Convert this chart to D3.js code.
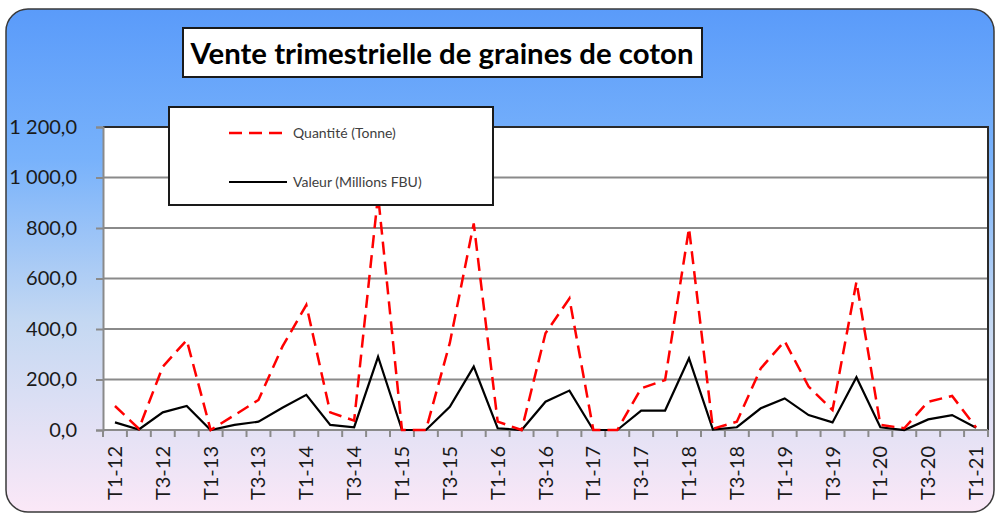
<!DOCTYPE html>
<html>
<head>
<meta charset="utf-8">
<script src="https://cdn.jsdelivr.net/npm/d3@7"></script>
<style>
  body { margin: 0; background: #fff; }
  svg { display: block; }
</style>
</head>
<body>
<div id="chart"></div>
<script>
// Categories (quarters)
const trimestres = [
  "T1-12", "T2-12", "T3-12", "T4-12",
  "T1-13", "T2-13", "T3-13", "T4-13",
  "T1-14", "T2-14", "T3-14", "T4-14",
  "T1-15", "T2-15", "T3-15", "T4-15",
  "T1-16", "T2-16", "T3-16", "T4-16",
  "T1-17", "T2-17", "T3-17", "T4-17",
  "T1-18", "T2-18", "T3-18", "T4-18",
  "T1-19", "T2-19", "T3-19", "T4-19",
  "T1-20", "T2-20", "T3-20", "T4-20",
  "T1-21"
];

// Quantité (Tonne)
const quantite = [95, 5, 251, 356, 0, 59, 119, 330, 495, 70, 37, 930,
  0, 0, 345, 818, 33, 0, 383, 521, 0, 0, 165, 198,
  799, 5, 33, 244, 352, 172, 79, 587, 20, 7, 112, 135, 10];

// Valeur (Millions FBU)
const valeur = [30, 2, 70, 95, 0, 20, 33, 88, 139, 20, 11, 290,
  0, 0, 92, 251, 7, 0, 112, 156, 0, 0, 77, 77,
  284, 2, 11, 86, 125, 59, 30, 209, 11, 0, 42, 59, 9];

const yTicks = [0, 200, 400, 600, 800, 1000, 1200];

const titre = "Vente trimestrielle de graines de coton";
const legendes = ["Quantité (Tonne)", "Valeur (Millions FBU)"];

const width = 995, height = 513;
const plot = { left: 103, right: 988, top: 127, bottom: 430 };
const font = "Lato, 'Open Sans', sans-serif";

const svg = d3.select("#chart")
    .append("svg")
    .attr("width", width)
    .attr("height", height);

// background gradient
const defs = svg.append("defs");
const grad = defs.append("linearGradient")
    .attr("id", "bg")
    .attr("x1", 0).attr("y1", 0).attr("x2", 0).attr("y2", 1);
grad.append("stop").attr("offset", "0%").attr("stop-color", "#5a9bfa");
grad.append("stop").attr("offset", "30%").attr("stop-color", "#78b2fb");
grad.append("stop").attr("offset", "62%").attr("stop-color", "#c4d8f2");
grad.append("stop").attr("offset", "100%").attr("stop-color", "#fbe8f7");

svg.append("rect")
    .attr("x", 6).attr("y", 9)
    .attr("width", 988).attr("height", 503)
    .attr("rx", 22).attr("ry", 22)
    .attr("fill", "url(#bg)")
    .attr("stroke", "#3a3a3a")
    .attr("stroke-width", 1.5);

// scales
const x = d3.scaleBand()
    .domain(trimestres)
    .range([plot.left, plot.right])
    .padding(0);

const y = d3.scaleLinear()
    .domain([0, 1200])
    .range([plot.bottom, plot.top]);

const fr = d3.formatLocale({ decimal: ",", thousands: " ", grouping: [3], currency: ["", ""] });
const fmt = fr.format(",.1f");

// plot area
svg.append("rect")
    .attr("x", plot.left).attr("y", plot.top)
    .attr("width", plot.right - plot.left)
    .attr("height", plot.bottom - plot.top)
    .attr("fill", "#fff");

// gridlines
svg.append("g")
    .selectAll("line")
    .data(yTicks.filter(d => d > 0 && d < 1200))
    .enter().append("line")
    .attr("x1", plot.left).attr("x2", plot.right)
    .attr("y1", d => y(d)).attr("y2", d => y(d))
    .attr("stroke", "#8a8a8a")
    .attr("stroke-width", 2);

// top and right border
svg.append("path")
    .attr("d", `M${plot.left},${plot.top}H${plot.right}V${plot.bottom}`)
    .attr("fill", "none")
    .attr("stroke", "#2a2a2a")
    .attr("stroke-width", 2);

// y axis
const yAxis = svg.append("g")
    .attr("transform", `translate(${plot.left},0)`)
    .call(d3.axisLeft(y).tickValues(yTicks).tickFormat(fmt).tickSize(7).tickPadding(19));
yAxis.select(".domain").attr("stroke", "#8a8a8a").attr("stroke-width", 2);
yAxis.selectAll(".tick line").attr("stroke", "#8a8a8a").attr("stroke-width", 2);
yAxis.selectAll(".tick text")
    .attr("fill", "#1a1a1a")
    .style("font-family", font)
    .style("font-size", "20px");

// x axis line + ticks at category boundaries
const xg = svg.append("g");
xg.append("line")
    .attr("x1", plot.left).attr("x2", plot.right)
    .attr("y1", plot.bottom).attr("y2", plot.bottom)
    .attr("stroke", "#8a8a8a").attr("stroke-width", 2);
xg.selectAll(".xt")
    .data(trimestres.concat(["fin"]))
    .enter().append("line")
    .attr("class", "xt")
    .attr("x1", (d, i) => plot.left + i * x.bandwidth())
    .attr("x2", (d, i) => plot.left + i * x.bandwidth())
    .attr("y1", plot.bottom).attr("y2", plot.bottom + 7)
    .attr("stroke", "#8a8a8a").attr("stroke-width", 2);

xg.selectAll(".xl")
    .data(trimestres.filter((d, i) => i % 2 === 0))
    .enter().append("text")
    .attr("class", "xl")
    .attr("transform", d => `translate(${x(d) + x.bandwidth() / 2},${plot.bottom + 16}) rotate(-90)`)
    .attr("dy", "0.35em")
    .attr("text-anchor", "end")
    .attr("fill", "#1a1a1a")
    .style("font-family", font)
    .style("font-size", "20px")
    .text(d => d);

// lines
const line = d3.line()
    .x((d, i) => x(trimestres[i]) + x.bandwidth() / 2)
    .y(d => y(d));

svg.append("path")
    .datum(valeur)
    .attr("d", line)
    .attr("fill", "none")
    .attr("stroke", "#000")
    .attr("stroke-width", 2.2)
    .attr("stroke-linejoin", "miter");

svg.append("path")
    .datum(quantite)
    .attr("d", line)
    .attr("fill", "none")
    .attr("stroke", "#ff0000")
    .attr("stroke-width", 2.5)
    .attr("stroke-dasharray", "13,7");

// title box
svg.append("rect")
    .attr("x", 183).attr("y", 28)
    .attr("width", 519).attr("height", 49)
    .attr("fill", "#fff")
    .attr("stroke", "#1a1a1a")
    .attr("stroke-width", 2);
svg.append("text")
    .attr("x", 442).attr("y", 64)
    .attr("text-anchor", "middle")
    .attr("textLength", 503)
    .attr("lengthAdjust", "spacingAndGlyphs")
    .style("font-family", font)
    .style("font-weight", "bold")
    .style("font-size", "29px")
    .attr("fill", "#000")
    .text(titre);

// legend
const leg = svg.append("g");
leg.append("rect")
    .attr("x", 169).attr("y", 107)
    .attr("width", 324).attr("height", 98)
    .attr("fill", "#fff")
    .attr("stroke", "#1a1a1a")
    .attr("stroke-width", 2);

const legItems = [
  { label: legendes[0], color: "#ff0000", dash: "13,7", w: 2.5, y: 133 },
  { label: legendes[1], color: "#000", dash: null, w: 2.2, y: 182 }
];
legItems.forEach(it => {
  leg.append("line")
      .attr("x1", 229).attr("x2", 287)
      .attr("y1", it.y).attr("y2", it.y)
      .attr("stroke", it.color)
      .attr("stroke-width", it.w)
      .attr("stroke-dasharray", it.dash);
  leg.append("text")
      .attr("x", 293).attr("y", it.y)
      .attr("dy", "0.35em")
      .attr("fill", "#404040")
      .style("font-family", font)
      .style("font-size", "14px")
      .text(it.label);
});
</script>
</body>
</html>
